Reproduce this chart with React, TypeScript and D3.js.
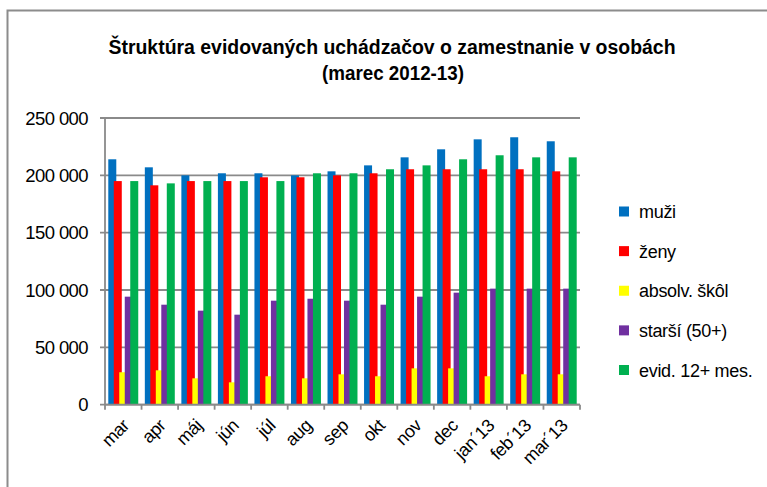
import React from "react";
import * as d3 from "d3";

const months = ["mar", "apr", "máj", "jún", "júl", "aug", "sep", "okt", "nov", "dec", "jan´13", "feb´13", "mar´13"];
const seriesNames = ["muži", "ženy", "absolv. škôl", "starší (50+)", "evid. 12+ mes."];
const seriesColors = ["#0070C0", "#FF0000", "#FFFF00", "#7030A0", "#00B050"];

const muzi = [214000, 207000, 200000, 201800, 201800, 200000, 203500, 208700, 215700, 222700, 231400, 233200, 229700];
const zeny = [195000, 191300, 195000, 195000, 198300, 198300, 200000, 201800, 205300, 205300, 205300, 205300, 203500];
const absolv = [28300, 30000, 23000, 19500, 24800, 23000, 26500, 24800, 31700, 31700, 24800, 26500, 26500];
const starsi = [94200, 87200, 82000, 78500, 90700, 92400, 90700, 87200, 94200, 97700, 101200, 101200, 101200];
const evid = [195000, 193000, 195000, 195000, 195000, 201800, 201800, 205300, 208700, 214000, 217500, 215700, 215700];

const yTicks = [0, 50000, 100000, 150000, 200000, 250000];
const seriesData = [muzi, zeny, absolv, starsi, evid];

const W = 767;
const H = 487;
const plotLeft = 105;
const plotRight = 580;
const plotTop = 118;
const plotBottom = 404.7;

const fmt = (v: number) => d3.format(",")(v).replace(/,/g, " ");

export default function App() {
  const x = d3.scaleBand<string>().domain(months).range([plotLeft, plotRight]).padding(0);
  const y = d3.scaleLinear().domain([0, 250000]).range([plotBottom, plotTop]);
  const bw = x.bandwidth();
  const barW = 8;
  const groupW = bw * 0.82;
  const sx = d3.scaleLinear().domain([0, seriesNames.length - 1]).range([(bw - groupW) / 2, (bw - groupW) / 2 + groupW - barW]);
  const grid = "#8a8a8a";
  const font = "'Liberation Sans', Arial, sans-serif";
  const legendY = d3.scaleLinear().domain([0, 4]).range([211.5, 370]);

  return (
    <svg width={W} height={H} style={{ position: "absolute", left: 0, top: 0, background: "#fff" }}>
      <rect x={0} y={0} width={W} height={H} fill="#fff" />
      <path d={`M7.5,${H} V10.5 H${W}`} fill="none" stroke="#8c8c8c" strokeWidth={2} />
      <g fontFamily="'Liberation Sans Narrow', 'Arial Narrow', 'Liberation Sans', sans-serif" fontWeight="bold" fontSize={20} textAnchor="middle" fill="#000">
        <text x={392} y={54} textLength={567} lengthAdjust="spacingAndGlyphs">Štruktúra evidovaných  uchádzačov  o zamestnanie v osobách</text>
        <text x={393} y={80} textLength={142} lengthAdjust="spacingAndGlyphs">(marec 2012-13)</text>
      </g>
      {yTicks.map((t) => (
        <g key={t}>
          <line x1={plotLeft - 5} x2={plotRight} y1={y(t)} y2={y(t)} stroke={grid} strokeWidth={1.8} />
          <text x={88} y={y(t) + 6.5} textAnchor="end" fontFamily={font} fontSize={18.5} letterSpacing={-0.6} fill="#000">
            {fmt(t)}
          </text>
        </g>
      ))}
      <line x1={plotLeft} x2={plotLeft} y1={plotTop} y2={plotBottom + 5} stroke={grid} strokeWidth={1.8} />
      {seriesData.map((vals, si) => (
        <g key={si} fill={seriesColors[si]}>
          {vals.map((v, i) => (
            <rect key={i} x={(x(months[i]) as number) + sx(si)} y={y(v)} width={barW} height={plotBottom - y(v)} />
          ))}
        </g>
      ))}
      <line x1={plotLeft} x2={plotRight} y1={plotBottom} y2={plotBottom} stroke={grid} strokeWidth={1.8} />
      {months.map((m) => (
        <line key={m} x1={(x(m) as number) + bw} x2={(x(m) as number) + bw} y1={plotBottom} y2={plotBottom + 5} stroke={grid} strokeWidth={1.8} />
      ))}
      {months.map((m) => {
        const cx = (x(m) as number) + bw / 2 + 7;
        const cy = plotBottom + 22;
        return (
          <text key={m} transform={`translate(${cx},${cy}) rotate(-45)`} textAnchor="end" fontFamily={font} fontSize={18} letterSpacing={-0.4} fill="#000">
            {m}
          </text>
        );
      })}
      {seriesNames.map((n, i) => (
        <g key={n}>
          <rect x={619} y={legendY(i) - 5} width={10} height={10} fill={seriesColors[i]} />
          <text x={639} y={legendY(i) + 6.5} fontFamily={font} fontSize={18} letterSpacing={-0.3} fill="#000">
            {n}
          </text>
        </g>
      ))}
    </svg>
  );
}
